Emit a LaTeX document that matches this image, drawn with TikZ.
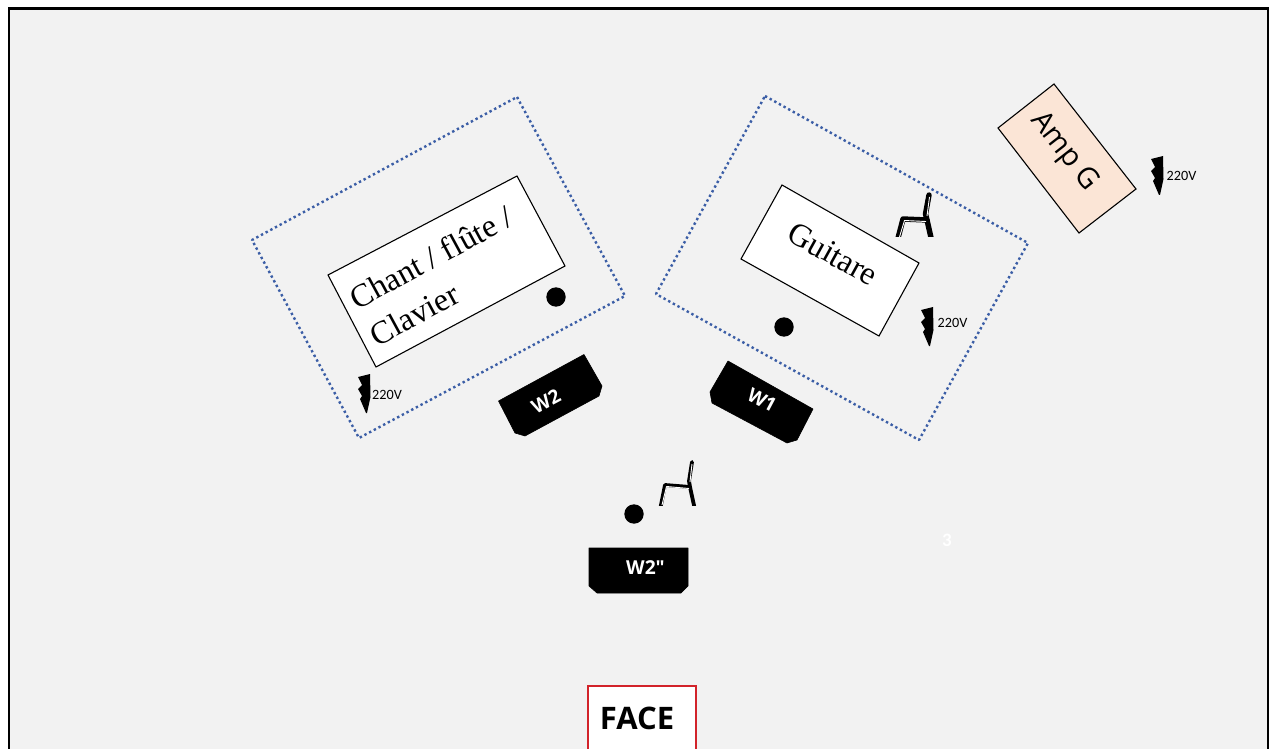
\documentclass[tikz,border=0pt]{standalone}
\usepackage{fontspec}
\setmainfont{Liberation Serif}
\newfontfamily\sansa{Carlito}
\newfontfamily\sansb{Open Sans}
\tikzset{
  zone/.style={draw=zoneblue,line width=1.2pt,line join=round,line cap=butt,dash pattern=on 1.2pt off 1.45pt},
  card/.style={draw=black,line width=0.55pt,fill=white,line join=miter},
  wedge/.style={fill=black,draw=black,line width=0.3pt,line join=round},
  wlabel/.style={text=white,font=\sansb\fontsize{9.6pt}{12pt}\selectfont\bfseries,inner sep=0pt},
  voltlabel/.style={text=black,font=\sansa\fontsize{7.1pt}{8pt}\selectfont,inner sep=0pt},
  bigserif/.style={text=black,inner sep=0pt,align=left,font=\fontsize{16.2pt}{21pt}\selectfont},
  stand/.style={fill=black,draw=none},
  chairout/.style={draw=black,line width=2.7pt,line join=round},
  chairin/.style={draw=white,line width=0.45pt,line join=round},
}
\definecolor{zoneblue}{HTML}{3B5EA6}
\definecolor{stagegrey}{HTML}{F2F2F2}
\definecolor{ampfill}{HTML}{FBE5D6}
\definecolor{facered}{HTML}{D2232A}
\newcommand{\boltat}[2]{\fill[black,shift={(#1,#2)},line join=round] (0,3)--(12,0)--(12.5,23)--(9,39)--(8,39)--(2,25)--(4,22)--(0,15)--(4,11)--cycle;}
\begin{document}
\begin{tikzpicture}[x=0.5pt,y=-0.5pt]
\useasboundingbox (0,0) rectangle (1271,749);
\fill[white] (0,0) rectangle (1271,749);
\draw[black,line width=1.25pt,fill=stagegrey] (9,8.5) rectangle (1268,760);
% zones
\draw[zone] (517,97)--(625,296)--(359,438)--(252,240)--cycle;
\draw[zone] (765,96)--(1028,243)--(919,440)--(656,294)--cycle;
% cards
\draw[card] (517,176)--(565,266)--(376,367)--(328,275)--cycle;
\draw[card] (782,185)--(919,263)--(879,336)--(741,259)--cycle;
\draw[card,fill=ampfill] (1054,84)--(1136,189)--(1079,233)--(998,128)--cycle;
\node[bigserif,rotate=28.5] (chant) at (441,276) {Chant / flûte /\\Clavier};
\node[bigserif,rotate=-29] (guitare) at (833,254) {Guitare};
\node[text=black,inner sep=0pt,rotate=-52,font=\sansb\fontsize{14.5pt}{17pt}\selectfont] (ampg) at (1064,152) {Amp G};
% mic stands
\node[stand,circle,minimum size=9.7pt,inner sep=0pt] (d1) at (556,297) {};
\node[stand,circle,minimum size=9.7pt,inner sep=0pt] (d2) at (784,327) {};
\node[stand,circle,minimum size=9.7pt,inner sep=0pt] (d3) at (634,514) {};
% wedges
\draw[wedge] (584,354.5)--(602,386)--(599,396)--(525,436)--(515,433)--(498.5,401)--cycle;
\draw[wedge] (728,361)--(813,409)--(797,440)--(787,443)--(712,403)--(710,392)--cycle;
\draw[wedge] (589,548)--(688,548)--(688,586)--(681,593)--(597,593)--(589,586)--cycle;
\node[wlabel,rotate=28] (w2) at (546,401) {W2};
\node[wlabel,rotate=-28] (w1) at (762,400) {W1};
\node[wlabel] (w3) at (645.5,568) {W2"};
% chairs
\begin{scope}
\clip (880,185) rectangle (945,237);
\draw[chairout] (897,242)--(903,219)--(927,220)--(932,242);
\draw[chairout,line cap=round] (927,220)--(925.5,214)--(929,195);
\draw[chairin] (899.5,237)--(904.5,220.5)--(926,221.5);
\draw[chairin] (927,216)--(929.5,197);
\end{scope}
\begin{scope}
\clip (645,450) rectangle (710,505);
\draw[chairout,line width=1.9pt] (660,510)--(665,485)--(690,487)--(695,510);
\draw[chairout,line width=1.9pt,line cap=round] (690,487)--(689,481)--(692,462);
\draw[chairin] (662,505)--(666.5,486.5)--(689,488.5);
\draw[chairin] (690,482)--(692,464);
\end{scope}
% power
\boltat{921}{307}
\boltat{358}{374}
\boltat{1151}{156}
\node[voltlabel] (v1) at (952.5,322.5) {220V};
\node[voltlabel] (v2) at (387,394.5) {220V};
\node[voltlabel] (v3) at (1181.5,175.5) {220V};
\node[text=white,inner sep=0pt,font=\sansa\bfseries\fontsize{9.5pt}{11pt}\selectfont] (n3) at (947,540) {3};
% face
\draw[draw=facered,line width=0.6pt,fill=white] (588,686)--(696,686)--(696,760)--(588,760)--cycle;
\node[text=black,inner sep=0pt,font=\sansb\bfseries\fontsize{15.5pt}{20pt}\selectfont] (face) at (637,718) {FACE};
\end{tikzpicture}
\end{document}
